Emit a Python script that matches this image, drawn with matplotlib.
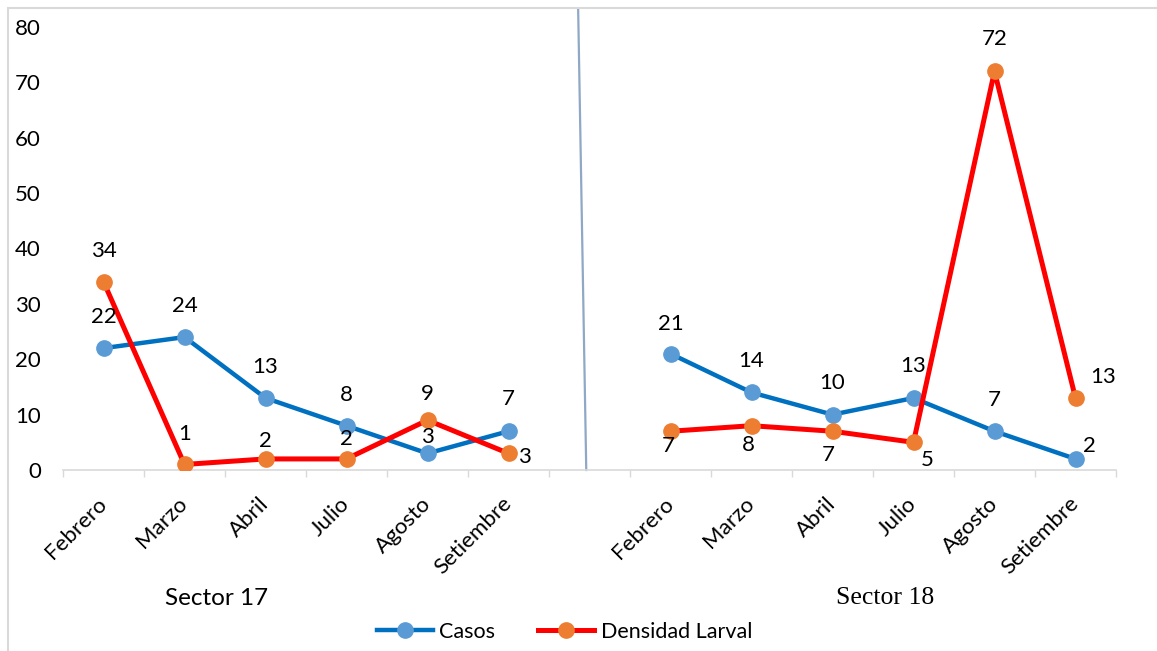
import matplotlib.pyplot as plt
import numpy as np
from matplotlib.lines import Line2D
from matplotlib.patches import Rectangle

plt.rcParams['font.family'] = ['Lato', 'DejaVu Sans']

months = ["Febrero", "Marzo", "Abril", "Julio", "Agosto", "Setiembre"]
sectors = ["Sector 17", "Sector 18"]

casos_17 = [22, 24, 13, 8, 3, 7]
densidad_17 = [34, 1, 2, 2, 9, 3]
casos_18 = [21, 14, 10, 13, 7, 2]
densidad_18 = [7, 8, 7, 5, 72, 13]

# data label offsets in pixels (dx, dy), as placed in the original
casos_off = [(0, 31), (0, 31), (0, 31), (0, 31), (0, 16), (0, 32),
             (0, 30), (0, 31), (0, 32), (0, 32), (0, 31), (14, 13)]
dens_off = [(0, 31), (0, 30), (0, 18), (0, 20), (0, 26), (16, -4),
            (-2, -15), (-3, -19), (-4, -24), (14, -18), (0, 32), (28, 21)]

# 6 months, one empty slot, 6 months
x17 = np.arange(6)
x18 = np.arange(7, 13)
xs = np.concatenate([x17, x18])
casos = casos_17 + casos_18
densidad = densidad_17 + densidad_18

fig = plt.figure(figsize=(11.57, 6.51), dpi=100)
ax = fig.add_axes([63 / 1157, 1 - 470 / 651, (1116 - 63) / 1157, (470 - 27) / 651])

c_line, c_mark = "#0070C0", "#5B9BD5"
d_line, d_mark = "#FF0000", "#ED7D31"
fs = 16

for xx, c, d in [(x17, casos_17, densidad_17), (x18, casos_18, densidad_18)]:
    ax.plot(xx, c, color=c_line, lw=3.2, marker="o", ms=11,
            mfc=c_mark, mec=c_mark, zorder=3)
    ax.plot(xx, d, color=d_line, lw=3.6, marker="o", ms=11,
            mfc=d_mark, mec=d_mark, zorder=3)

for x, v, off in zip(xs, casos, casos_off):
    ax.annotate(str(v), (x, v), xytext=off, textcoords="offset pixels",
                ha="center", va="center", fontsize=fs)
for x, v, off in zip(xs, densidad, dens_off):
    ax.annotate(str(v), (x, v), xytext=off, textcoords="offset pixels",
                ha="center", va="center", fontsize=fs)

ax.set_xlim(-0.5, 12.5)
ax.set_ylim(0, 80)
ax.set_yticks(range(0, 81, 10))
ax.set_xticks(xs)
ax.set_xticklabels(months + months, rotation=45, ha="right", va="center",
                   rotation_mode="anchor", fontsize=fs)
ax.set_xticks(np.arange(-0.5, 13, 1), minor=True)
ax.tick_params(axis="x", which="major", length=0, pad=22)
ax.tick_params(axis="x", which="minor", length=5, color="#d9d9d9", width=1)
ax.tick_params(axis="y", length=0, pad=16, labelsize=fs)

for s in ["top", "right", "left"]:
    ax.spines[s].set_visible(False)
ax.spines["bottom"].set_color("#d9d9d9")
ax.spines["bottom"].set_linewidth(1.2)

# sector labels under the months
ax.text(1.39, -0.29, sectors[0], transform=ax.get_xaxis_transform(),
        ha="center", va="center", fontsize=17.5)
ax.text(9.65, -0.29, sectors[1], transform=ax.get_xaxis_transform(),
        ha="center", va="center", fontsize=18.5, family="Liberation Serif")

# divider between the two sectors
ax.plot([5.96, 5.86], [0, 1.04], transform=ax.get_xaxis_transform(),
        color="#8FA8C6", lw=1.6, clip_on=False)

# chart border
fig.patches.append(Rectangle((8 / 1157, -0.05), 1.0, 1.05 - 8 / 651,
                             transform=fig.transFigure, fill=False,
                             edgecolor="#d9d9d9", lw=1.5))

handles = [Line2D([], [], color=c_line, lw=3.2, marker="o", ms=11, mfc=c_mark, mec=c_mark),
           Line2D([], [], color=d_line, lw=3.6, marker="o", ms=11, mfc=d_mark, mec=d_mark)]
fig.legend(handles, ["Casos", "Densidad Larval"], loc="center",
           bbox_to_anchor=(0.488, 1 - 632 / 651), ncol=2, frameon=False,
           fontsize=15.5, handlelength=2.6, handletextpad=0.3, columnspacing=2.0)

fig.savefig("out.png", dpi=100)
